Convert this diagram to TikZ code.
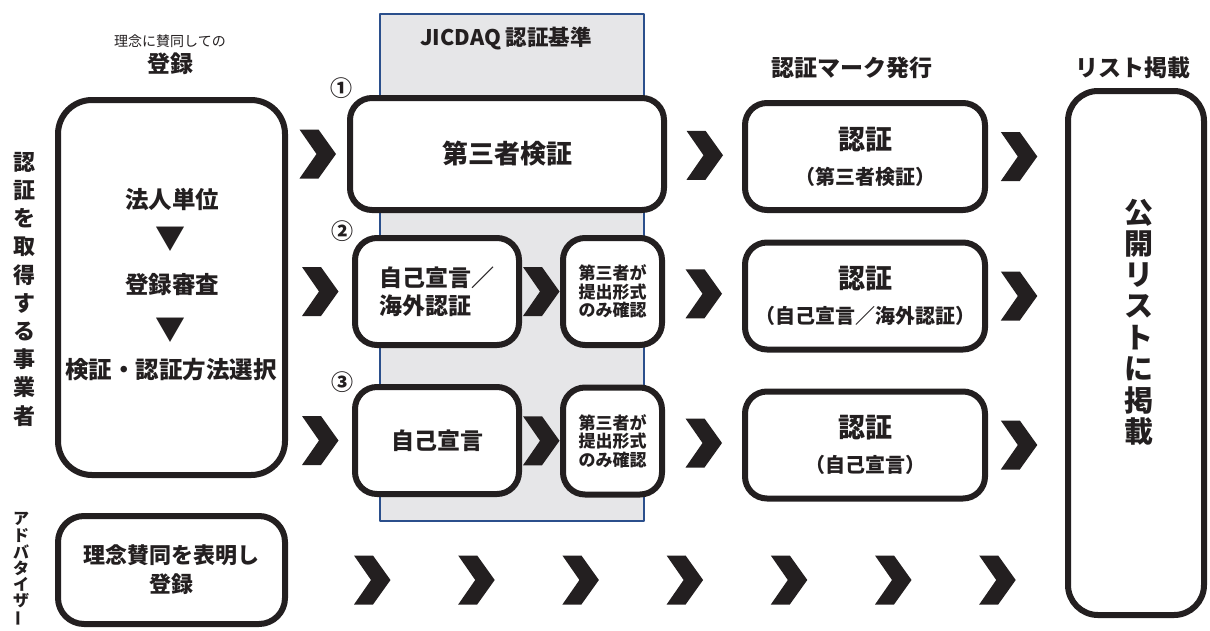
\documentclass[tikz,border=0pt]{standalone}
\usepackage{fontspec}
\setmainfont{Noto Sans CJK JP}[BoldFont={Noto Sans CJK JP Black}]
\usepackage{tikz}
\usetikzlibrary{positioning,calc}

\definecolor{ink}{HTML}{231F20}
\definecolor{panelgray}{HTML}{E6E6E8}
\definecolor{panelblue}{HTML}{2B4F8C}
\newcommand{\setfs}[2]{\fontsize{#1}{#2}\selectfont}

\begin{document}
\begin{tikzpicture}[x=1pt, y=-1pt, inner sep=0pt, line join=round,
  box/.style={draw=ink, line width=6pt, fill=white, rounded corners=22pt, text=ink, align=center},
  panel/.style={draw=panelblue, fill=panelgray, line width=2pt},
  chev/.pic={\fill[ink] (-18,-24.5) -- (1,-24.5) -- (18.5,0) -- (1,24.5) -- (-18,24.5) -- (-1,0) -- cycle;},
  head/.style={text=ink, font=\bfseries\setfs{23}{23}},
  item/.style={text=ink, font=\bfseries\setfs{23.5}{24}},
  tri/.style={text=ink, font=\setfs{30}{30}},
  num/.style={text=ink, font=\bfseries\setfs{22}{22}},
  vchar/.style={text=ink, font=\bfseries\setfs{22}{22}}]
\useasboundingbox (0,0) rectangle (1210,630);

% JICDAQ panel
\node[panel, minimum width=264pt, minimum height=507pt] (jicdaq) at (512,267.5) {};
\node[head, font=\bfseries\setfs{21.5}{22}] (jictitle) at (506,39) {JICDAQ 認証基準};

% column titles
\node[text=ink, font=\setfs{14}{14}] (pledge) at (170,41) {理念に賛同しての};
\node[head] (regtitle) at (170,64) {登録};
\node[head] (marktitle) at (852,68) {認証マーク発行};
\node[head] (listtitle) at (1133,68) {リスト掲載};

% registration
\node[box, minimum width=227pt, minimum height=375pt, rounded corners=34pt] (reg) at (171.5,287.5) {};
\node[item] (corp) at (172,199) {法人単位};
\node[tri] (down1) at (170,239) {▼};
\node[item] (review) at (172,285) {登録審査};
\node[tri] (down2) at (170,330) {▼};
\node[item] (method) at (171,370) {検証・認証方法選択};

\node[box, minimum width=227pt, minimum height=108pt, rounded corners=26pt, font=\bfseries\setfs{22}{29}] (adv) at (171.5,570) {理念賛同を表明し\\登録};

% standards
\node[num] (n1) at (341,88) {①};
\node[num] (n2) at (342,231) {②};
\node[num] (n3) at (342,382) {③};
\node[box, minimum width=314pt, minimum height=112pt, font=\bfseries\setfs{26}{30}] (third) at (507,154) {第三者検証};
\node[box, minimum width=164pt, minimum height=107pt, align=left, font=\bfseries\setfs{23}{28}] (self2) at (437,291.5) {自己宣言／\\海外認証};
\node[box, minimum width=99pt, minimum height=107pt, font=\bfseries\setfs{17}{18.5}] (chk2) at (612.5,291.5) {第三者が\\提出形式\\のみ確認};
\node[box, minimum width=164pt, minimum height=107pt, font=\bfseries\setfs{23}{28}] (self3) at (437,440.5) {自己宣言};
\node[box, minimum width=99pt, minimum height=107pt, font=\bfseries\setfs{17}{18.5}] (chk3) at (612.5,441) {第三者が\\提出形式\\のみ確認};

% marks
\node[box, minimum width=240pt, minimum height=107pt, font=\bfseries\setfs{20}{35}] (mark1) at (865,156.5) {{\setfs{27}{27}認証}\\（第三者検証）};
\node[box, minimum width=240pt, minimum height=107pt, font=\bfseries\setfs{20}{35}] (mark2) at (865,296) {{\setfs{27}{27}認証}\\（自己宣言／海外認証）};
\node[box, minimum width=240pt, minimum height=107pt, font=\bfseries\setfs{20}{35}] (mark3) at (865,445) {{\setfs{27}{27}認証}\\（自己宣言）};

% list
\node[box, minimum width=136pt, minimum height=524pt, rounded corners=30pt] (list) at (1136,353) {};
\foreach \ch [count=\i from 0] in {公,開,リ,ス,ト,に,掲,載}
  \node[vchar, font=\bfseries\setfs{29}{29}] (pub\i) at (1139,213+31.2*\i) {\ch};

% side labels
\foreach \ch [count=\i from 0] in {認,証,を,取,得,す,る,事,業,者}
  \node[vchar] (biz\i) at (24,162+28.2*\i) {\ch};
\foreach \ch [count=\i from 0] in {ア,ド,バ,タ,イ,ザ}
  \node[vchar, font=\bfseries\setfs{16}{16}] (adt\i) at (21,519+16.3*\i) {\ch};
\node[vchar, font=\bfseries\setfs{16}{16}, rotate=90] (adt6) at (21,618) {ー};

% chevrons
\pic at ($(reg.east |- third.west)!.5!(third.west)$) {chev};
\pic at ($(reg.east |- self2.west)!.5!(self2.west)$) {chev};
\pic at ($(reg.east |- self3.west)!.5!(self3.west)$) {chev};
\pic at ($(self2.east)!.5!(chk2.west)$) {chev};
\pic at ($(self3.east)!.5!(chk3.west)$) {chev};
\pic at ($(third.east)!.5!(mark1.west)$) {chev};
\pic at ($(chk2.east)!.5!(mark2.west)$) {chev};
\pic at ($(chk3.east)!.5!(mark3.west)$) {chev};
\pic at ($(mark1.east)!.4!(list.west |- mark1.east)$) {chev};
\pic at ($(mark2.east)!.4!(list.west |- mark2.east)$) {chev};
\pic at ($(mark3.east)!.4!(list.west |- mark3.east)$) {chev};
\foreach \i in {0,...,6}
  \pic at (372+104.2*\i,580) {chev};
\end{tikzpicture}
\end{document}
